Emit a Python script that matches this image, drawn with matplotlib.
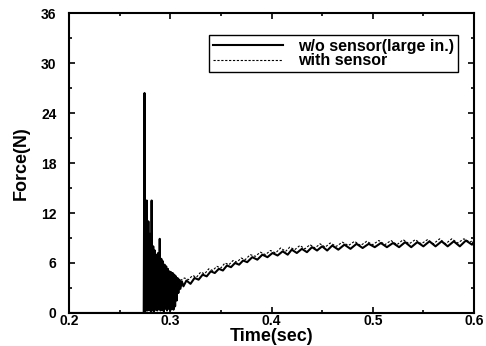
import matplotlib
matplotlib.use("Agg")
import matplotlib.pyplot as plt
from matplotlib.ticker import MultipleLocator

plt.rcParams['font.family'] = ['Liberation Sans', 'DejaVu Sans']
plt.rcParams['font.weight'] = 'bold'

# w/o sensor (large in.)
t_wo = [0.200, 0.2738, 0.2746, 0.2754, 0.2762, 0.2768, 0.2776, 0.2784, 0.2792, 0.2800,
        0.2808, 0.2816, 0.2824, 0.2832, 0.2840, 0.2848, 0.2856, 0.2864, 0.2872, 0.2880,
        0.2888, 0.2896, 0.2904, 0.2912, 0.2920, 0.2928, 0.2936, 0.2944, 0.2952, 0.2960,
        0.2968, 0.2976, 0.2984, 0.2992, 0.3000, 0.3008, 0.3016, 0.3024, 0.3032, 0.3040,
        0.3048, 0.3056, 0.3064, 0.3072, 0.3080, 0.3090, 0.3100, 0.3115,
        0.313, 0.316, 0.320, 0.324, 0.328, 0.332, 0.336, 0.340, 0.344, 0.348,
        0.352, 0.356, 0.360, 0.364, 0.368, 0.372, 0.376, 0.381, 0.386, 0.391,
        0.396, 0.401, 0.406, 0.411, 0.416, 0.420, 0.425, 0.430, 0.435, 0.440,
        0.445, 0.450, 0.455, 0.460, 0.466, 0.472, 0.478, 0.484, 0.490, 0.496,
        0.502, 0.508, 0.514, 0.520, 0.526, 0.532, 0.538, 0.544, 0.550, 0.556,
        0.562, 0.568, 0.574, 0.580, 0.586, 0.592, 0.598, 0.600]
f_wo = [0.0, 0.0, 26.4, 0.2, 9.0, 13.5, 0.3, 11.0, 0.4, 9.5,
        0.2, 13.5, 0.3, 8.0, 0.2, 7.5, 0.4, 7.0, 0.3, 7.2,
        0.5, 8.9, 0.3, 6.5, 0.4, 6.2, 0.2, 5.8, 0.5, 5.6,
        0.3, 5.3, 0.5, 5.0, 0.3, 4.9, 0.5, 4.8, 0.4, 4.6,
        0.8, 4.4, 1.5, 4.2, 2.4, 4.0, 2.9, 3.8,
        3.2, 3.9, 3.5, 4.2, 4.0, 4.6, 4.4, 5.0, 4.8, 5.3,
        5.1, 5.7, 5.5, 6.0, 5.8, 6.3, 6.1, 6.7, 6.4, 7.0,
        6.7, 7.2, 6.9, 7.4, 7.0, 7.6, 7.2, 7.7, 7.3, 7.9,
        7.5, 8.0, 7.5, 8.1, 7.6, 8.2, 7.7, 8.3, 7.8, 8.3,
        7.9, 8.4, 7.9, 8.4, 7.9, 8.5, 7.9, 8.5, 8.0, 8.6,
        8.0, 8.6, 8.0, 8.6, 8.0, 8.7, 8.2, 8.6]

# with sensor
t_ws = [0.310, 0.314, 0.318, 0.322, 0.326, 0.330, 0.334, 0.338, 0.342, 0.346,
        0.350, 0.354, 0.358, 0.362, 0.366, 0.370, 0.374, 0.379, 0.384, 0.389,
        0.394, 0.399, 0.404, 0.409, 0.414, 0.418, 0.423, 0.428, 0.433, 0.438,
        0.443, 0.448, 0.453, 0.458, 0.464, 0.470, 0.476, 0.482, 0.488, 0.494,
        0.500, 0.506, 0.512, 0.518, 0.524, 0.530, 0.536, 0.542, 0.548, 0.554,
        0.560, 0.566, 0.572, 0.578, 0.584, 0.590, 0.596, 0.600]
f_ws = [3.9, 4.2, 4.0, 4.5, 4.3, 4.9, 4.7, 5.3, 5.1, 5.6,
        5.4, 6.0, 5.8, 6.3, 6.1, 6.6, 6.4, 7.0, 6.8, 7.3,
        7.0, 7.5, 7.2, 7.8, 7.4, 7.9, 7.6, 8.1, 7.7, 8.2,
        7.8, 8.3, 7.9, 8.4, 8.0, 8.5, 8.1, 8.6, 8.1, 8.6,
        8.2, 8.7, 8.2, 8.7, 8.2, 8.8, 8.3, 8.8, 8.3, 8.8,
        8.3, 8.9, 8.3, 8.9, 8.4, 8.9, 8.5, 8.8]

fig = plt.figure(figsize=(4.86, 3.46), dpi=100)
ax = fig.add_axes([69 / 486, 1 - 313 / 346, 405 / 486, 300 / 346])

ax.plot(t_wo, f_wo, color='black', lw=1.5, label='w/o sensor(large in.)')
ax.plot(t_ws, f_ws, color='black', lw=0.8, linestyle=(0, (2, 1.5)), label='with sensor')

ax.set_xlim(0.2, 0.6)
ax.set_ylim(0, 36)
ax.xaxis.set_major_locator(MultipleLocator(0.1))
ax.xaxis.set_minor_locator(MultipleLocator(0.05))
ax.yaxis.set_major_locator(MultipleLocator(6))
ax.yaxis.set_minor_locator(MultipleLocator(3))
ax.set_xticks([0.2, 0.3, 0.4, 0.5, 0.6])
ax.set_xticklabels(['0.2', '0.3', '0.4', '0.5', '0.6'])

ax.tick_params(which='both', direction='in', top=True, right=True, width=1.2)
ax.tick_params(which='major', length=4)
ax.tick_params(which='minor', length=2.5)
ax.tick_params(axis='x', labelsize=10, pad=0.5)
ax.tick_params(axis='y', labelsize=10, pad=9)
for s in ax.spines.values():
    s.set_linewidth(1.5)

ax.set_xlabel('Time(sec)', fontsize=13, fontweight='bold', labelpad=0)
ax.set_ylabel('Force(N)', fontsize=13, fontweight='bold', labelpad=8)

leg = ax.legend(loc='upper right', bbox_to_anchor=(0.96, 0.927), fontsize=11.5,
                handlelength=4.4, labelspacing=-0.05, borderpad=0.25,
                borderaxespad=0, fancybox=False, framealpha=1,
                edgecolor='black', handletextpad=0.9)
leg.get_frame().set_linewidth(1.0)

fig.savefig('out.png', dpi=100)
